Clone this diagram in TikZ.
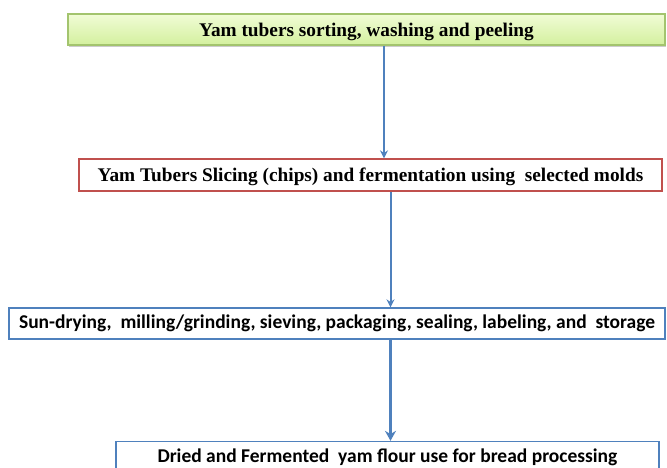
\documentclass[tikz,border=0pt]{standalone}
\usepackage{fontspec}
\setmainfont{Liberation Serif}
\newfontfamily\calibri{Carlito}
\usetikzlibrary{arrows.meta,shadows}
\definecolor{flowblue}{HTML}{4F81BD}
\definecolor{slicered}{HTML}{C0504D}
\definecolor{washedge}{HTML}{A3C46E}
\definecolor{washtop}{HTML}{F1FCD6}
\definecolor{washbot}{HTML}{D3F09E}
\begin{document}
\begin{tikzpicture}[x=1pt, y=-1pt, every node/.style={align=center, inner sep=0pt},
  stage/.style={draw, line width=1.3pt, minimum height=31pt},
  serifbig/.style={font=\fontsize{19.3}{22}\selectfont\bfseries, text height=15pt, text depth=1.5pt},
  sansbig/.style={font=\calibri\fontsize{19.5}{22}\selectfont\bfseries},
  flow/.style={draw=flowblue, line width=2pt, -{Stealth[length=8pt,width=8pt]}}]
  \useasboundingbox (0,0) rectangle (667,468);

  \node[stage, serifbig, draw=washedge, top color=washtop, bottom color=washbot, drop shadow={shadow xshift=1pt, shadow yshift=-2pt, fill=black!40, opacity=0.5}, minimum width=597pt] (wash) at (366.5,29.5) {Yam tubers sorting, washing and peeling};
  \node[stage, serifbig, draw=slicered, fill=white, minimum width=583pt, minimum height=32pt] (slice) at (370.5,175) {Yam Tubers Slicing (chips) and fermentation using\ \ selected molds};
  \node[stage, sansbig, draw=flowblue, fill=white, minimum width=656pt] (dry) at (337,323.5) {Sun-drying,\ \ milling/grinding, sieving, packaging, sealing, labeling, and\ \ storage};
  \node[stage, sansbig, draw=flowblue, fill=white, minimum width=543pt, minimum height=32pt] (bread) at (387.5,457.5) {Dried and Fermented\ \ yam flour use for bread processing};

  \coordinate (c1) at (384,0);
  \coordinate (c2) at (390.5,0);
  \draw[flow] (wash.south -| c1) -- (slice.north -| c1);
  \draw[flow] (slice.south -| c2) -- (dry.north -| c2);
  \draw[flow, line width=3.3pt, -{Stealth[length=10pt,width=11pt]}] (dry.south -| c2) -- (bread.north -| c2);
\end{tikzpicture}
\end{document}
